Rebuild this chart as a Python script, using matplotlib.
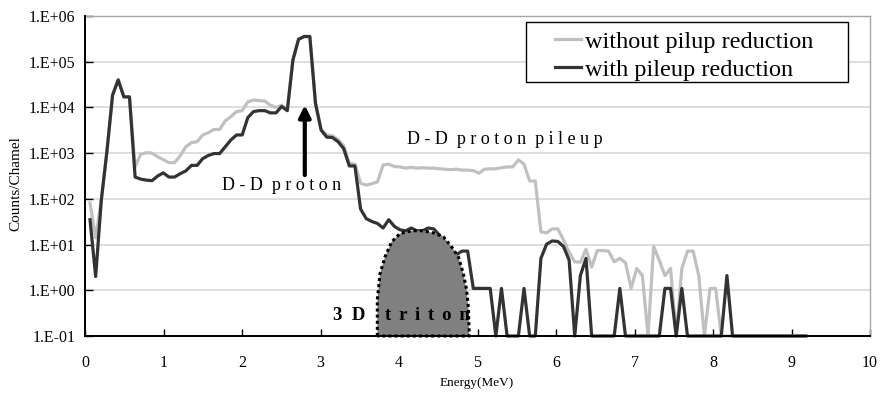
"""
plot.py

Pulse-height spectrum (counts per channel vs energy) measured with and
without pile-up reduction, with the D-D proton peak, its pile-up
continuum and the expected 3D triton region marked.

Output: out.png (880 x 396 px)
"""

import matplotlib
matplotlib.use("Agg")
import matplotlib.pyplot as plt
import matplotlib.ticker as mticker
from matplotlib.lines import Line2D
from matplotlib.patches import Polygon, Rectangle
import numpy as np

# ── Data ──────────────────────────────────────────────────────────────────────

# MCA energy calibration (MeV per channel, offset of channel 0)
E_OFFSET = 0.064
E_GAIN   = 0.0718

# counts/channel, without pile-up reduction
counts_without = [
    81, 14, 93, 1100, 18600, 40000, 17000, 17000, 500, 950,
    1020, 1000, 830, 720, 620, 620, 870, 1380, 1700, 1780,
    2500, 2800, 3300, 3300, 5100, 6300, 8100, 8500, 13200, 14500,
    14100, 13800, 11200, 10000, 11200, 9100, 110000, 310000, 360000, 360000,
    12500, 3300, 2500, 2400, 2000, 1450, 600, 575, 220, 200,
    215, 235, 550, 575, 510, 500, 470, 490, 470, 480,
    470, 470, 455, 445, 435, 445, 425, 425, 415, 365,
    445, 455, 455, 480, 500, 500, 710, 575, 245, 245,
    19, 18, 22, 22, 12.6, 6.8, 4.2, 4.1, 7.9, 3.2,
    7.4, 7.4, 7.2, 4.2, 5.0, 4.0, 1.1, 3.0, 2.1, 0.1,
    9.1, 4.5, 2.1, 3.0, 0.1, 3.0, 7.2, 7.2, 2.1, 0.1,
    1.1, 1.1, 0.1, 0.1, 0.1, 0.1, 0.1, 0.1, 0.1, 0.1,
    0.1, 0.1, 0.1, 0.1, 0.1, 0.1, 0.1, 0.1,
]

# counts/channel, with pile-up reduction
counts_with = [
    35, 2.0, 93, 1100, 18600, 40000, 17000, 17000, 300, 270,
    257, 250, 316, 370, 300, 300, 355, 410, 540, 540,
    760, 890, 980, 980, 1380, 1950, 2500, 2500, 6000, 8100,
    8500, 8500, 7600, 7600, 10500, 8500, 110000, 310000, 355000, 355000,
    12300, 3200, 2240, 2200, 1780, 1260, 525, 525, 60, 37,
    32, 29, 23, 35, 25, 21, 20, 23, 20, 20,
    23, 22, 16, 10, 7.0, 6.0, 7.2, 7.2, 1.1, 1.1,
    1.1, 1.1, 0.1, 1.1, 0.1, 0.1, 0.1, 1.1, 0.1, 0.1,
    5.0, 10.2, 12, 11.7, 9.1, 4.6, 0.1, 2.1, 5.0, 0.1,
    0.1, 0.1, 0.1, 0.1, 1.1, 0.1, 0.1, 0.1, 0.1, 0.1,
    0.1, 0.1, 1.1, 1.1, 0.1, 1.1, 0.1, 0.1, 0.1, 0.1,
    0.1, 0.1, 0.1, 2.1, 0.1, 0.1, 0.1, 0.1, 0.1, 0.1,
    0.1, 0.1, 0.1, 0.1, 0.1, 0.1, 0.1, 0.1,
]

# outline of the shaded "3D triton" region (MeV, counts)
triton_e = [3.724, 3.724, 3.758, 3.822, 3.907, 4.013, 4.161, 4.31,
            4.437, 4.565, 4.671, 4.756, 4.82, 4.862, 4.883, 4.896]
triton_counts = [0.1, 0.62, 2.3, 5.4, 11.5, 17.5, 20, 20,
                 18, 14.8, 8.9, 5.4, 2.3, 1.0, 0.43, 0.1]

labels = ["without pilup reduction", "with pileup reduction"]

y_ticks = [1e-1, 1e0, 1e1, 1e2, 1e3, 1e4, 1e5, 1e6]
y_tick_labels = ["1.E-01", "1.E+00", "1.E+01", "1.E+02",
                 "1.E+03", "1.E+04", "1.E+05", "1.E+06"]
x_ticks = list(range(0, 11))

# ── Style ─────────────────────────────────────────────────────────────────────

SERIF = ["Liberation Serif", "DejaVu Serif"]
C_LIGHT = "#c0c0c0"
C_DARK  = "#333333"
C_GRID  = "#d4d4d4"

plt.rcParams["font.family"] = SERIF


def _spaced(word: str, gap: str = " \u2006") -> str:
    """Letter-spaced text, like the tracked labels of the original figure."""
    return gap.join(word)


def main() -> None:
    channels = np.arange(len(counts_with))
    energy = E_OFFSET + E_GAIN * channels

    fig = plt.figure(figsize=(8.8, 3.96), dpi=100)
    ax = fig.add_axes([85 / 880, 1 - 336 / 396, 785 / 880, 320 / 396])

    ax.plot(energy, counts_without, color=C_LIGHT, lw=2.3, clip_on=False, zorder=3)
    ax.plot(energy, counts_with, color=C_DARK, lw=2.3, clip_on=False, zorder=4)

    # shaded triton region with dotted outline
    pts = np.column_stack([triton_e, triton_counts])
    ax.add_patch(Polygon(pts, closed=True, facecolor="#808080", edgecolor="none", zorder=5))
    ax.plot(triton_e + [triton_e[0]], triton_counts + [triton_counts[0]],
            color="black", lw=2.2, ls=(0, (1, 1)), zorder=6, clip_on=False)

    ax.set_yscale("log")
    ax.set_xlim(0, 10)
    ax.set_ylim(1e-1, 1e6)
    ax.set_yticks(y_ticks)
    ax.yaxis.set_major_formatter(mticker.FixedFormatter(y_tick_labels))
    ax.yaxis.set_minor_locator(mticker.NullLocator())
    ax.set_xticks(x_ticks)

    ax.tick_params(axis="y", direction="in", length=6, width=1, pad=7,
                   labelsize=11.5, colors="black")
    ax.tick_params(axis="x", direction="in", length=5, width=1, pad=14,
                   labelsize=11.5, colors="black")

    ax.grid(axis="y", color=C_GRID, lw=1.1, zorder=0)
    ax.set_axisbelow(True)

    for side in ("left", "bottom"):
        ax.spines[side].set_color("black")
        ax.spines[side].set_linewidth(1.4)
        ax.spines[side].set_zorder(7)
    for side in ("top", "right"):
        ax.spines[side].set_color("#a6a6a6")
        ax.spines[side].set_linewidth(1.0)

    # annotations
    ax.text(2.5, 10 ** 2.3, "D - D  p r o t o n", ha="center", va="center",
            fontsize=13, zorder=8)
    ax.annotate("", xy=(2.8, 10 ** 4.05), xytext=(2.8, 10 ** 2.52),
                arrowprops=dict(arrowstyle="-|>,head_length=0.7,head_width=0.35",
                                color="black", lw=3, shrinkA=0, shrinkB=0),
                zorder=8)
    ax.text(4.1, 10 ** 3.3, "D - D  p r o t o n  p i l e u p", ha="left", va="center",
            fontsize=13, zorder=8)
    ax.text(3.16, 10 ** -0.55, "3  D", ha="left", va="center",
            fontsize=13.5, fontweight="bold", zorder=8)
    ax.text(3.82, 10 ** -0.55, _spaced("triton"), ha="left", va="center",
            fontsize=13.5, fontweight="bold", zorder=8)

    # legend with an Excel-like boxed frame
    ax.add_patch(Rectangle((0.562, 0.794), 0.41, 0.187, transform=ax.transAxes,
                           facecolor="white", edgecolor="black", lw=1.0, zorder=9))
    handles = [Line2D([], [], color=C_LIGHT, lw=2.3),
               Line2D([], [], color=C_DARK, lw=2.3)]
    leg = ax.legend(handles, labels, loc="upper left",
                    bbox_to_anchor=(0.592, 0.969), frameon=False,
                    fontsize=17.5, handlelength=1.1, handletextpad=0.15,
                    labelspacing=0.25, borderpad=0.2, borderaxespad=0)
    leg.set_zorder(10)

    fig.text(16 / 880, 1 - 184 / 396, "Counts/Chamel", rotation=90,
             ha="center", va="center", fontsize=11)
    fig.text(477 / 880, 1 - 383 / 396, "Energy(MeV)",
             ha="center", va="center", fontsize=9.5)

    fig.savefig("out.png", dpi=100)
    plt.close(fig)


if __name__ == "__main__":
    main()
